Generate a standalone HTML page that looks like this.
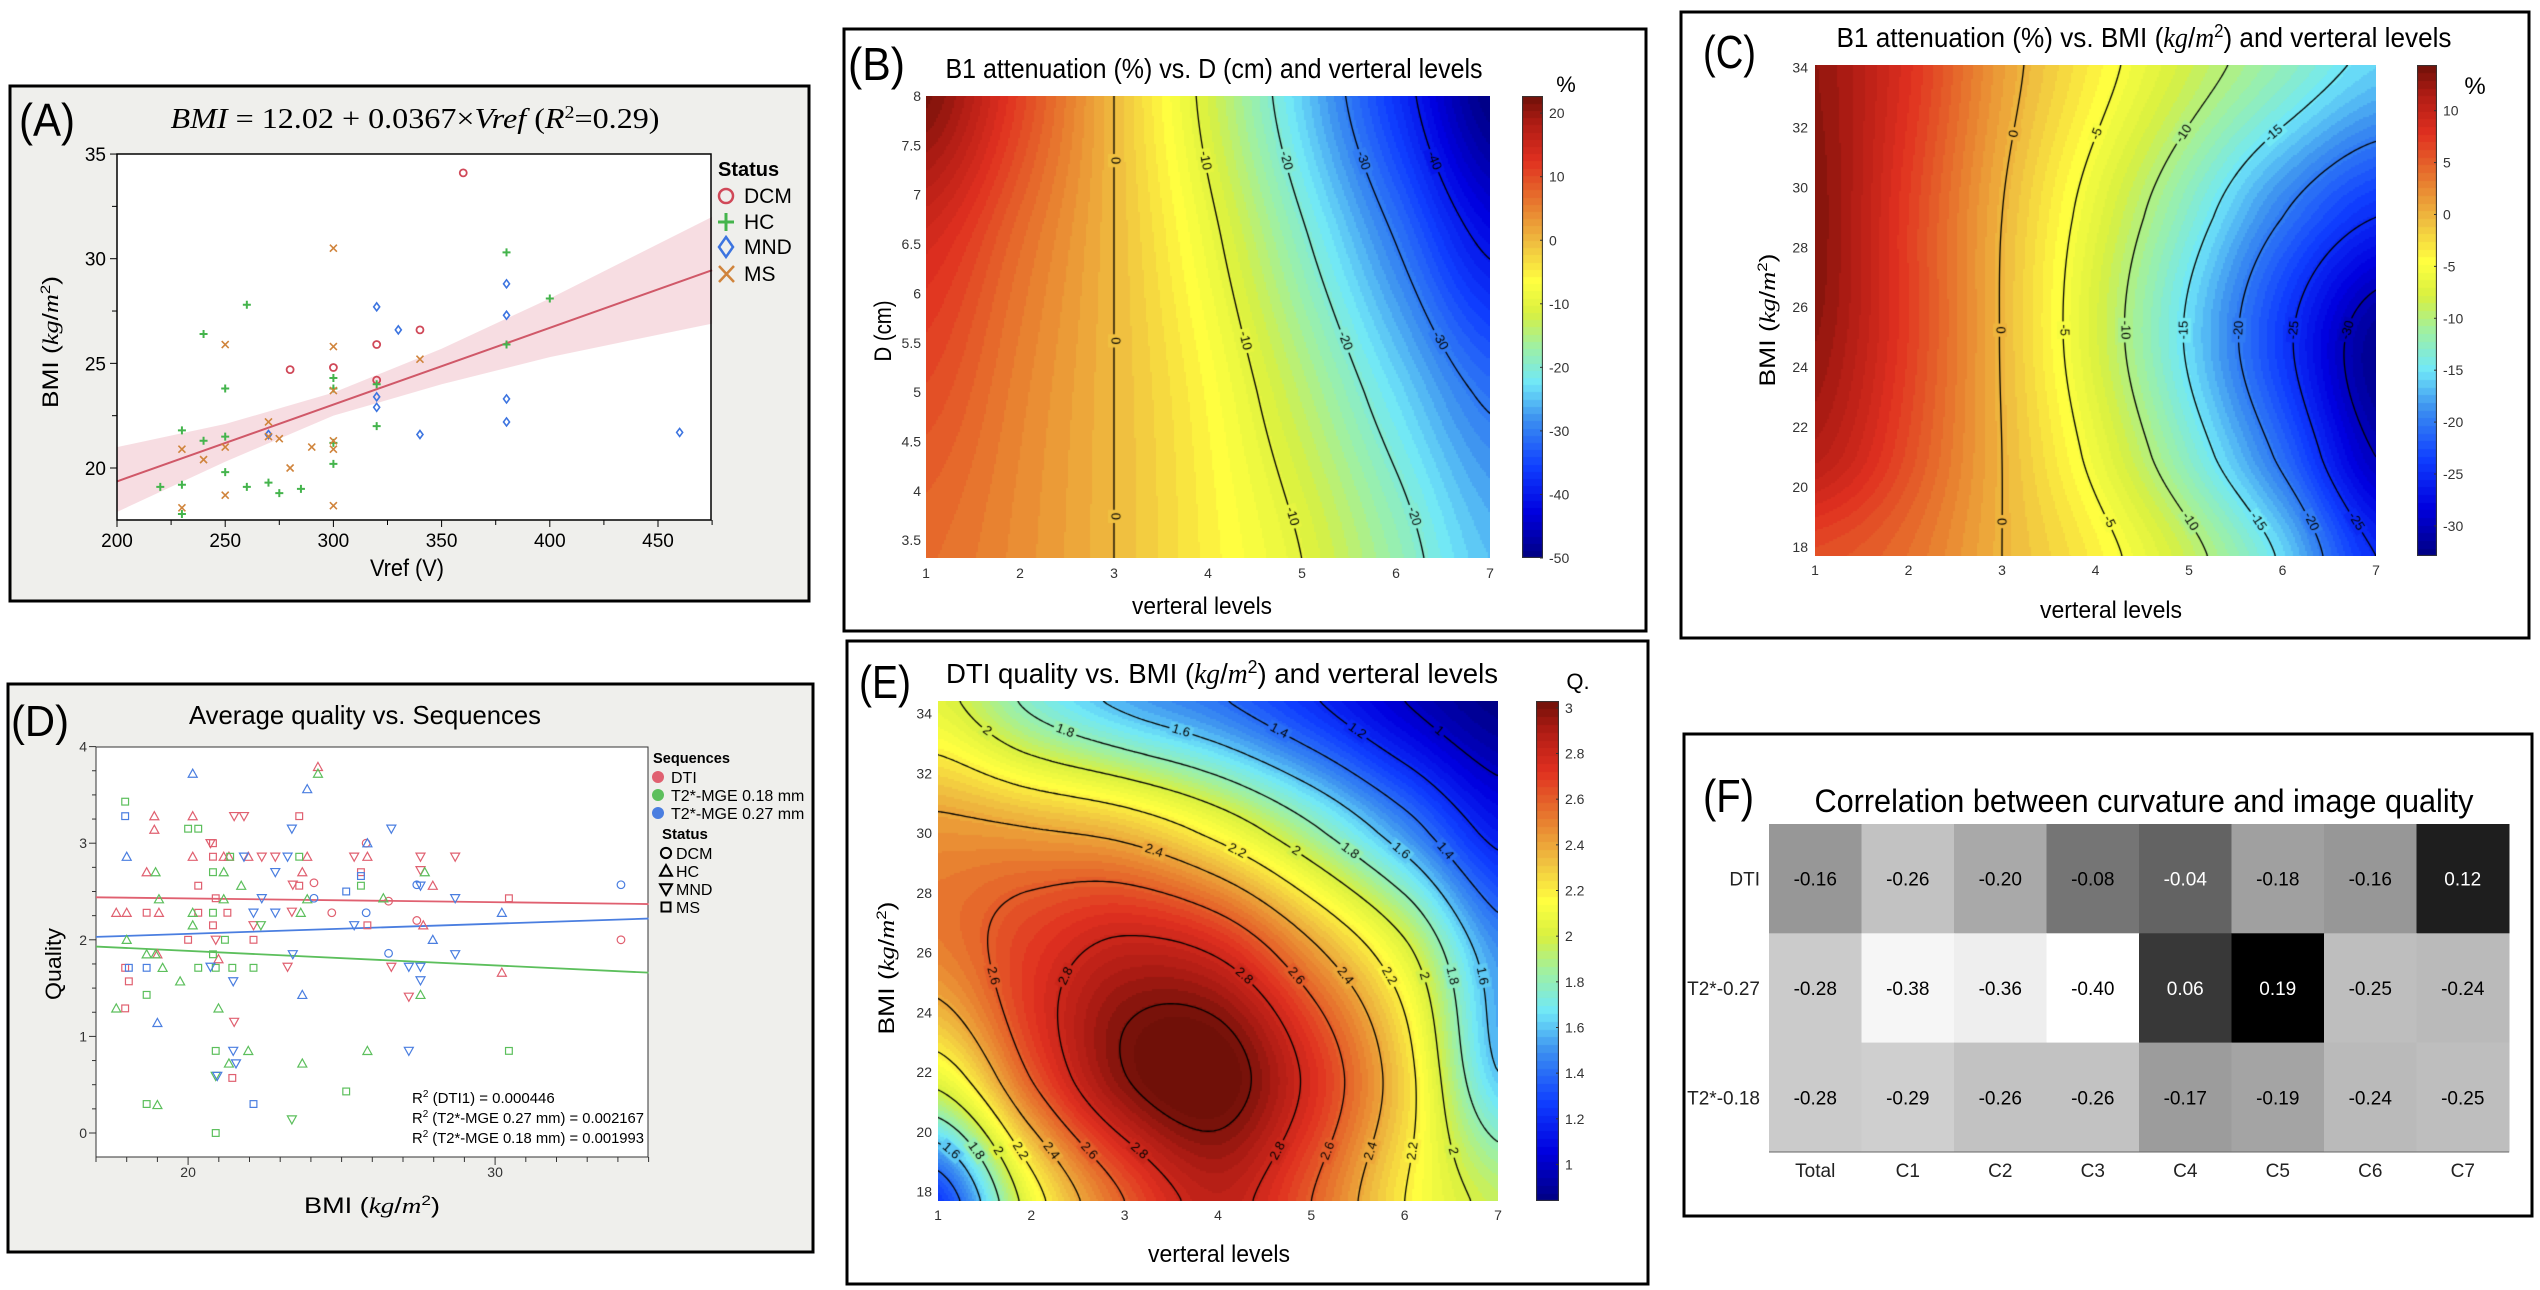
<!DOCTYPE html>
<html><head><meta charset="utf-8">
<style>
body{margin:0;width:2540px;height:1290px;background:#fff;position:relative;overflow:hidden;font-family:"Liberation Sans",sans-serif}
canvas{position:absolute}
#main{position:absolute;left:0;top:0}
</style></head>
<body>
<canvas id="cvB" width="564" height="462" style="left:926px;top:96px"></canvas>
<canvas id="cbB" width="21" height="462" style="left:1522px;top:96px"></canvas>
<canvas id="cvC" width="561" height="491" style="left:1815px;top:65px"></canvas>
<canvas id="cbC" width="20" height="491" style="left:2417px;top:65px"></canvas>
<canvas id="cvE" width="560" height="500" style="left:938px;top:701px"></canvas>
<canvas id="cbE" width="23" height="500" style="left:1536px;top:701px"></canvas>
<svg id="main" width="2540" height="1290" xmlns="http://www.w3.org/2000/svg">
<g font-family="Liberation Sans Narrow, Liberation Sans, sans-serif" fill="#000">
<!-- Panel A -->
<rect x="10" y="86" width="799" height="515" fill="#efefec" stroke="#000" stroke-width="3"/>
<rect x="117" y="154" width="594" height="366" fill="#fff"/>
<text x="19" y="136" font-size="46" textLength="56" lengthAdjust="spacingAndGlyphs">(A)</text>
<text x="415" y="128" font-size="29" text-anchor="middle" font-family="Liberation Serif, serif" textLength="489" lengthAdjust="spacingAndGlyphs"><tspan font-style="italic">BMI</tspan> = 12.02 + 0.0367×<tspan font-style="italic">Vref</tspan> (<tspan font-style="italic">R</tspan><tspan font-size="18" dy="-10">2</tspan><tspan dy="10">=0.29)</tspan></text>
<text x="407" y="576" font-size="24" text-anchor="middle" textLength="74" lengthAdjust="spacingAndGlyphs">Vref (V)</text>
<text transform="translate(58,342) rotate(-90)" font-size="22" text-anchor="middle" textLength="132" lengthAdjust="spacingAndGlyphs">BMI (<tspan font-family="Liberation Serif, serif" font-style="italic">kg</tspan>/<tspan font-family="Liberation Serif, serif" font-style="italic">m</tspan><tspan font-size="14" dy="-8">2</tspan><tspan dy="8">)</tspan></text>
<text x="718" y="176" font-size="20" font-weight="bold">Status</text>
<!-- Panel B -->
<rect x="844" y="29" width="802" height="602" fill="none" stroke="#000" stroke-width="3"/>
<text x="848" y="80" font-size="46" textLength="57" lengthAdjust="spacingAndGlyphs">(B)</text>
<text x="1214" y="78" font-size="28" text-anchor="middle" textLength="537" lengthAdjust="spacingAndGlyphs">B1 attenuation (%) vs. D (cm) and verteral levels</text>
<text x="1202" y="614" font-size="24" text-anchor="middle" textLength="140" lengthAdjust="spacingAndGlyphs">verteral levels</text>
<text transform="translate(891,331) rotate(-90)" font-size="24" text-anchor="middle" textLength="61" lengthAdjust="spacingAndGlyphs">D (cm)</text>
<text x="1566" y="92" font-size="22" text-anchor="middle">%</text>
<!-- Panel C -->
<rect x="1681" y="12" width="848" height="626" fill="none" stroke="#000" stroke-width="3"/>
<text x="1703" y="68" font-size="46" textLength="53" lengthAdjust="spacingAndGlyphs">(C)</text>
<text x="2144" y="47" font-size="28" text-anchor="middle" textLength="615" lengthAdjust="spacingAndGlyphs">B1 attenuation (%) vs. BMI (<tspan font-family="Liberation Serif, serif" font-style="italic">kg</tspan>/<tspan font-family="Liberation Serif, serif" font-style="italic">m</tspan><tspan font-size="18" dy="-10">2</tspan><tspan dy="10">) and verteral levels</tspan></text>
<text x="2111" y="618" font-size="24" text-anchor="middle" textLength="142" lengthAdjust="spacingAndGlyphs">verteral levels</text>
<text transform="translate(1775,320) rotate(-90)" font-size="22" text-anchor="middle" textLength="133" lengthAdjust="spacingAndGlyphs">BMI (<tspan font-family="Liberation Serif, serif" font-style="italic">kg</tspan>/<tspan font-family="Liberation Serif, serif" font-style="italic">m</tspan><tspan font-size="14" dy="-8">2</tspan><tspan dy="8">)</tspan></text>
<text x="2475" y="94" font-size="24" text-anchor="middle">%</text>
<!-- Panel D -->
<rect x="8" y="684" width="805" height="568" fill="#efefec" stroke="#000" stroke-width="3"/>
<rect x="96" y="747" width="552" height="410" fill="#fff" stroke="#333" stroke-width="1"/>
<text x="11" y="736" font-size="44" textLength="58" lengthAdjust="spacingAndGlyphs">(D)</text>
<text x="365" y="724" font-size="26" text-anchor="middle" textLength="352" lengthAdjust="spacingAndGlyphs">Average quality vs. Sequences</text>
<text x="372" y="1213" font-size="22" text-anchor="middle" textLength="136" lengthAdjust="spacingAndGlyphs">BMI (<tspan font-family="Liberation Serif, serif" font-style="italic">kg</tspan>/<tspan font-family="Liberation Serif, serif" font-style="italic">m</tspan><tspan font-size="14" dy="-8">2</tspan><tspan dy="8">)</tspan></text>
<text transform="translate(61,964) rotate(-90)" font-size="22" text-anchor="middle" textLength="72" lengthAdjust="spacingAndGlyphs">Quality</text>
<text x="653" y="763" font-size="15" font-weight="bold" textLength="77" lengthAdjust="spacingAndGlyphs">Sequences</text>
<text x="662" y="839" font-size="15" font-weight="bold">Status</text>
<text x="412" y="1103" font-size="15">R<tspan font-size="10" dy="-6">2</tspan><tspan dy="6"> (DTI1) = 0.000446</tspan></text>
<text x="412" y="1123" font-size="15" textLength="232" lengthAdjust="spacingAndGlyphs">R<tspan font-size="10" dy="-6">2</tspan><tspan dy="6"> (T2*-MGE 0.27 mm) = 0.002167</tspan></text>
<text x="412" y="1143" font-size="15" textLength="232" lengthAdjust="spacingAndGlyphs">R<tspan font-size="10" dy="-6">2</tspan><tspan dy="6"> (T2*-MGE 0.18 mm) = 0.001993</tspan></text>
<!-- Panel E -->
<rect x="847" y="641" width="801" height="643" fill="none" stroke="#000" stroke-width="3"/>
<text x="859" y="698" font-size="46" textLength="52" lengthAdjust="spacingAndGlyphs">(E)</text>
<text x="1222" y="683" font-size="28" text-anchor="middle" textLength="552" lengthAdjust="spacingAndGlyphs">DTI quality vs. BMI (<tspan font-family="Liberation Serif, serif" font-style="italic">kg</tspan>/<tspan font-family="Liberation Serif, serif" font-style="italic">m</tspan><tspan font-size="18" dy="-10">2</tspan><tspan dy="10">) and verteral levels</tspan></text>
<text x="1219" y="1262" font-size="24" text-anchor="middle" textLength="142" lengthAdjust="spacingAndGlyphs">verteral levels</text>
<text transform="translate(894,968) rotate(-90)" font-size="22" text-anchor="middle" textLength="133" lengthAdjust="spacingAndGlyphs">BMI (<tspan font-family="Liberation Serif, serif" font-style="italic">kg</tspan>/<tspan font-family="Liberation Serif, serif" font-style="italic">m</tspan><tspan font-size="14" dy="-8">2</tspan><tspan dy="8">)</tspan></text>
<text x="1578" y="689" font-size="22" text-anchor="middle">Q.</text>
<!-- Panel F -->
<rect x="1684" y="734" width="848" height="482" fill="none" stroke="#000" stroke-width="3"/>
<text x="1703" y="812" font-size="46" textLength="51" lengthAdjust="spacingAndGlyphs">(F)</text>
<text x="2144" y="812" font-size="32" text-anchor="middle" textLength="659" lengthAdjust="spacingAndGlyphs">Correlation between curvature and image quality</text>
</g>
<g id="dyn" font-family="Liberation Sans Narrow, Liberation Sans, sans-serif"></g>
</svg>
<script>
// ---------- DATA ----------
// Panel A
const dcmV=[360,280,300,320,320,340];
const dcmB=[34.1,24.7,24.8,25.9,24.2,26.6];
const hcV=[380,400,260,240,380,250,300,300,320,320,230,240,250,300,300,250,220,230,260,270,275,285,230];
const hcB=[30.3,28.1,27.8,26.4,25.9,23.8,24.3,23.8,24.0,22.0,21.8,21.3,21.5,21.2,20.2,19.8,19.1,19.2,19.1,19.3,18.8,19.0,17.8];
const mndV=[380,320,380,330,320,320,380,380,340,270,460];
const mndB=[28.8,27.7,27.3,26.6,23.4,22.9,23.3,22.2,21.6,21.6,21.7];
const msV=[300,250,300,340,300,270,270,275,300,230,250,290,300,240,280,250,230,300];
const msB=[30.5,25.9,25.8,25.2,23.7,22.2,21.5,21.4,21.3,20.9,21.0,21.0,20.9,20.4,20.0,18.7,18.1,18.2];
const aFitV=[200,475];
const aFitB=[19.36,29.45];
const aBandV=[200,250,300,350,400,475];
const aBandLo=[17.9,20.3,22.5,24.0,25.3,26.9];
const aBandHi=[21.0,22.1,23.6,25.7,28.1,32.0];
const aXTicks=[200,250,300,350,400,450];
const aYTicks=[20,25,30,35];

// Panel B
const bX=[1,2,3,4,5,6,7];
const bD=[8,6.5,5,3.3];
const bGrid=[[22,11,0,-11.5,-24,-37,-50],[14,7,0,-8.5,-19,-30,-41],[10,5,0,-6,-14,-23,-31],[7,4,0,-5,-10,-17.5,-25]];
const bLevels=[0,-10,-20,-30,-40];
const bYTicks=[3.5,4,4.5,5,5.5,6,6.5,7,7.5,8];
const bCbTicks=[20,10,0,-10,-20,-30,-40,-50];

// Panel C
const cX=[1,2,3,4,5,6,7];
const cBmi=[34.1,29,25,21,17.7];
const cGrid=[[13,8,1.3,-3.7,-8.3,-12.2,-15.8],[13.5,7,0,-6.6,-13.2,-20,-25],[13,7,-0.2,-7.6,-15.5,-24,-32],[11,6,0,-5.9,-12.9,-20.8,-30],[6,4,0,-3.7,-8.8,-15.6,-25]];
const cLevels=[0,-5,-10,-15,-20,-25,-30];
const cYTicks=[18,20,22,24,26,28,30,32,34];
const cCbTicks=[10,5,0,-5,-10,-15,-20,-25,-30];

// Panel E
const eX=[1,2,3,4,5,6,7];
const eBmi=[34.4,30,26,22,17.7];
const eGrid=[[2.05,1.76,1.56,1.42,1.22,1.0,0.85],[2.45,2.42,2.35,2.15,1.85,1.5,1.15],[2.5,2.7,2.85,2.78,2.45,2.05,1.5],[2.1,2.62,3.0,3.08,2.75,2.27,1.6],[1.25,2.1,2.6,2.85,2.6,2.2,1.95]];
const eLevels=[1,1.2,1.4,1.6,1.8,2,2.2,2.4,2.6,2.8,3];
const eYTicks=[18,20,22,24,26,28,30,32,34];
const eCbTicks=[3,2.8,2.6,2.4,2.2,2,1.8,1.6,1.4,1.2,1];
const levelTicks=[1,2,3,4,5,6,7];

// Panel D
const dtiBmi=[17.66,18.0,18.9,18.9,18.65,19.05,20.15,20.15,21.16,21.33,21.96,23.72,23.88,24.23,25.84,27.66,27.97,30.22,19.0,20.99,
 21.5,21.82,20.73,22.4,22.84,23.41,23.38,22.13,25.41,26.62,27.57,27.57,28.7,27.19,21.5,23.24,20.9,
 24.1,24.68,25.8,26.53,27.45,34.1,
 17.95,18.07,17.95,18.65,20.33,20.33,20.0,20.81,20.81,20.9,21.28,22.13,23.62,23.62,25.63,25.84,30.45,21.44,20.81];
const dtiQ=[2.28,2.28,3.28,3.14,2.70,2.28,3.28,2.86,2.86,2.86,2.86,2.70,2.86,3.79,2.86,2.15,2.56,1.66,1.85,1.80,
 3.28,3.28,3.0,2.86,2.86,2.57,2.29,2.15,2.86,1.72,2.86,2.72,2.86,1.41,1.15,1.72,2.0,
 2.59,2.28,3.0,2.40,2.20,2.0,
 1.71,1.57,1.29,2.28,2.56,2.28,2.0,3.0,2.15,2.43,2.28,2.0,3.28,2.56,2.70,2.15,2.43,0.57,2.86];
const dtiStat='HHHHHHHHHHHHHHHHHHHHMMMMMMMMMMMMMMMMMCCCCCCSSSSSSSSSSSSSSSSSSS'.split('');
const g18Bmi=[17.66,18.0,18.65,18.94,18.94,19.05,19.17,20.15,19.74,20.99,21.16,21.16,21.73,21.33,21.96,23.72,24.23,23.88,23.67,25.84,26.36,27.71,19.0,20.15,27.57,
 22.37,23.38,20.9,
 17.95,18.65,18.65,20.0,20.33,20.33,20.81,20.81,20.9,21.2,21.44,22.13,20.9,20.9,21.37,23.62,25.15,25.63,30.45,20.81];
const g18Q=[1.29,2.0,1.85,1.85,2.70,2.42,1.71,2.15,1.57,1.29,2.70,2.42,2.56,0.72,0.85,0.72,3.72,2.42,2.28,0.85,2.43,2.70,0.29,2.28,1.43,
 2.15,0.14,0.59,
 3.43,1.43,0.30,3.15,3.15,1.71,2.70,2.28,1.71,2.0,1.71,1.71,0.85,0.0,2.86,2.86,0.43,2.56,0.85,1.85];
const g18Stat='HHHHHHHHHHHHHHHHHHHHHHHHHMMMSSSSSSSSSSSSSSSSSSSS'.split('');
const g27Bmi=[18.0,19.0,20.15,23.72,23.88,25.84,27.97,30.22,
 21.82,20.73,21.47,22.84,22.84,23.38,23.24,23.41,22.4,25.41,26.62,27.19,27.57,27.57,27.57,28.7,28.7,27.19,21.47,21.56,20.95,22.13,
 24.1,25.8,26.53,27.45,34.1,
 17.95,18.07,18.65,22.13,25.15,25.63];
const g27Q=[2.86,1.14,3.72,1.43,3.56,3.0,2.0,2.28,
 2.86,1.72,1.57,2.70,2.28,3.15,2.86,1.85,2.43,2.15,3.15,1.72,1.72,1.58,2.56,2.43,1.85,0.85,0.85,0.72,0.59,2.28,
 2.43,2.28,1.86,2.57,2.57,
 3.28,1.71,1.71,0.30,2.50,2.66];
const g27Stat='HHHHHHHHMMMMMMMMMMMMMMMMMMMMMMCCCCCSSSSSS'.split('');
const dFitStart=[2.44,1.93,2.03];
const dFitEnd=[2.37,1.66,2.22];
const dFitBmi=[17,35];
const dYTicks=[0,1,2,3,4];
const dXTicks=[20,30];

// Panel F
const fRows=['DTI','T2*-0.27','T2*-0.18'];
const fCols=['Total','C1','C2','C3','C4','C5','C6','C7'];
const fDTI=[-0.16,-0.26,-0.20,-0.08,-0.04,-0.18,-0.16,0.12];
const fT27=[-0.28,-0.38,-0.36,-0.40,0.06,0.19,-0.25,-0.24];
const fT18=[-0.28,-0.29,-0.26,-0.26,-0.17,-0.19,-0.24,-0.25];

// ---------- HELPERS ----------
const NS='http://www.w3.org/2000/svg';
const dyn=document.getElementById('dyn');
function mk(tag,attrs,txt){const e=document.createElementNS(NS,tag);for(const k in attrs)e.setAttribute(k,attrs[k]);if(txt!==undefined)e.textContent=txt;dyn.appendChild(e);return e;}
const stops=[[0,0,0,128],[0.1,0,0,224],[0.2,16,64,255],[0.3,60,144,240],[0.38,112,232,248],[0.46,160,240,160],[0.53,216,240,64],[0.6,255,255,64],[0.68,240,192,64],[0.76,232,128,48],[0.86,224,48,32],[0.94,176,28,20],[1,112,16,8]];
function cmap(t){t=Math.max(0,Math.min(1,t));for(let i=0;i<stops.length-1;i++){const a=stops[i],b=stops[i+1];if(t<=b[0]){const u=(t-a[0])/(b[0]-a[0]);return [a[1]+(b[1]-a[1])*u,a[2]+(b[2]-a[2])*u,a[3]+(b[3]-a[3])*u];}}return stops[stops.length-1].slice(1);}
function cr(p0,p1,p2,p3,t){return 0.5*(2*p1+(-p0+p2)*t+(2*p0-5*p1+4*p2-p3)*t*t+(-p0+3*p1-3*p2+p3)*t*t*t);}
function fidx(arr,v){const n=arr.length;const asc=arr[n-1]>arr[0];for(let i=0;i<n-1;i++){const a=arr[i],b=arr[i+1];if((asc&&v<=b)||(!asc&&v>=b)||i==n-2){return i+Math.max(0,Math.min(1,(v-a)/(b-a)));}}return 0;}
function interp(xs,ys,Z,x,y){const nx=xs.length,ny=ys.length;const fi=fidx(xs,x),fj=fidx(ys,y);let i=Math.min(Math.floor(fi),nx-2),j=Math.min(Math.floor(fj),ny-2);const ti=fi-i,tj=fj-j;
 const g=(jj,ii)=>Z[Math.max(0,Math.min(ny-1,jj))][Math.max(0,Math.min(nx-1,ii))];
 const r=[-1,0,1,2].map(d=>cr(g(j+d,i-1),g(j+d,i),g(j+d,i+1),g(j+d,i+2),ti));return cr(r[0],r[1],r[2],r[3],tj);}

function drawContour(c){
 const cv=document.getElementById(c.id),W=cv.width,H=cv.height,ctx=cv.getContext('2d');
 const f=(px,py)=>interp(c.xs,c.ys,c.Z,c.x0+(px/W)*(c.x1-c.x0),c.yTop-(py/H)*(c.yTop-c.yBot));
 const bandCol=v=>{let t=(v-c.vmin)/(c.vmax-c.vmin);t=(Math.floor(t*64)+0.5)/64;return cmap(t);};
 const img=ctx.createImageData(W,H);const S=2;
 for(let py=0;py<H;py+=S)for(let px=0;px<W;px+=S){const col=bandCol(f(px+1,py+1));
  for(let dy=0;dy<S&&py+dy<H;dy++)for(let dx=0;dx<S&&px+dx<W;dx++){const k=((py+dy)*W+px+dx)*4;img.data[k]=col[0];img.data[k+1]=col[1];img.data[k+2]=col[2];img.data[k+3]=255;}}
 ctx.putImageData(img,0,0);
 const st=3,nx=Math.ceil(W/st)+1,ny=Math.ceil(H/st)+1;const G=[];
 for(let j=0;j<ny;j++){G.push([]);for(let i=0;i<nx;i++)G[j].push(f(i*st,j*st));}
 ctx.strokeStyle='#000';ctx.lineWidth=1.3;
 c.levels.forEach(L=>{ctx.beginPath();
  for(let j=0;j<ny-1;j++)for(let i=0;i<nx-1;i++){
   const v=[G[j][i],G[j][i+1],G[j+1][i+1],G[j+1][i]];const p=[[i,j],[i+1,j],[i+1,j+1],[i,j+1]];const pts=[];
   for(let e=0;e<4;e++){const a=v[e],b=v[(e+1)%4];if((a<L)!==(b<L)){const u=(L-a)/(b-a);const A=p[e],B=p[(e+1)%4];pts.push([(A[0]+(B[0]-A[0])*u)*st,(A[1]+(B[1]-A[1])*u)*st]);}}
   for(let k=0;k+1<pts.length;k+=2){ctx.moveTo(pts[k][0],pts[k][1]);ctx.lineTo(pts[k+1][0],pts[k+1][1]);}
  }ctx.stroke();});
 ctx.font='13px "Liberation Sans", sans-serif';ctx.textAlign='center';ctx.textBaseline='middle';
 c.labelRows.forEach(fr=>{const py=fr*H;let prev=f(0,py);
  for(let px=1;px<W;px++){const cur=f(px,py);
   c.levels.forEach(L=>{if((prev<L)!==(cur<L)&&px>12&&px<W-12){
    const gx=f(px+1,py)-f(px-1,py),gy=f(px,py+1)-f(px,py-1);let ang=Math.atan2(gx,-gy);
    if(ang>Math.PI/2)ang-=Math.PI;if(ang<-Math.PI/2)ang+=Math.PI;
    const txt=String(L);const tw=ctx.measureText(txt).width;const col=bandCol(cur);
    ctx.save();ctx.translate(px,py);ctx.rotate(ang);ctx.fillStyle='rgb('+col.map(Math.round).join(',')+')';
    ctx.fillRect(-tw/2-3,-7,tw+6,14);ctx.fillStyle='#000';ctx.fillText(txt,0,0);ctx.restore();}});
   prev=cur;}});
 const cb=document.getElementById(c.cb),cctx=cb.getContext('2d');
 for(let y=0;y<cb.height;y++){const v=c.vmax-(y/cb.height)*(c.vmax-c.vmin);const col=bandCol(v);cctx.fillStyle='rgb('+col.map(Math.round).join(',')+')';cctx.fillRect(0,y,cb.width,1);}
 cctx.strokeStyle='#333';cctx.lineWidth=1;cctx.strokeRect(0.5,0.5,cb.width-1,cb.height-1);
}

// ---------- PANEL A ----------
const ax=v=>117+(v-200)*2.164, ay=b=>468-(b-20)*20.93;
(function(){
 let d='M';aBandV.forEach((v,i)=>{d+=(i?' L':'')+ax(v)+','+ay(aBandHi[i]);});
 for(let i=aBandV.length-1;i>=0;i--)d+=' L'+ax(aBandV[i])+','+ay(aBandLo[i]);d+='Z';
 let e=mk('path',{d:d,fill:'rgba(222,120,140,0.25)'});
 
 
 e=mk('line',{x1:ax(aFitV[0]),y1:ay(aFitB[0]),x2:ax(aFitV[1]),y2:ay(aFitB[1]),stroke:'#d05868','stroke-width':2});
 
 
 e=mk('rect',{x:117,y:154,width:594,height:366,fill:'none',stroke:'#000','stroke-width':1.5});
 
 
 aXTicks.forEach(v=>{let t=mk('line',{x1:ax(v),y1:520,x2:ax(v),y2:527,stroke:'#000'});
  
  
  let l=mk('text',{x:ax(v),y:547,'font-size':19,'text-anchor':'middle'},String(v));
  
  
  let m=mk('line',{x1:ax(v+25),y1:520,x2:ax(v+25),y2:525,stroke:'#000'});
  
  });
 aYTicks.forEach(v=>{let t=mk('line',{x1:110,y1:ay(v),x2:117,y2:ay(v),stroke:'#000'});
  
  
  let l=mk('text',{x:106,y:ay(v)+7,'font-size':19,'text-anchor':'end'},String(v));
  
  
  if(v>20){let m=mk('line',{x1:112,y1:ay(v-2.5),x2:117,y2:ay(v-2.5),stroke:'#000'});
  
  }});
 const sym=(kind,x,y,col)=>{let e;
  if(kind==='o')e=mk('circle',{cx:x,cy:y,r:3.5,fill:'none',stroke:col,'stroke-width':1.8});
  else if(kind==='+')e=mk('path',{d:`M${x-4},${y}h8M${x},${y-4}v8`,stroke:col,'stroke-width':2});
  else if(kind==='d')e=mk('path',{d:`M${x},${y-4}l3,4l-3,4l-3,-4z`,fill:'none',stroke:col,'stroke-width':1.6});
  else e=mk('path',{d:`M${x-3.5},${y-3.5}l7,7M${x+3.5},${y-3.5}l-7,7`,stroke:col,'stroke-width':1.6});
  return e;};
 dcmV.forEach((v,i)=>{const e=sym('o',ax(v),ay(dcmB[i]),'#d04858');
  
  });
 hcV.forEach((v,i)=>{const e=sym('+',ax(v),ay(hcB[i]),'#44b44c');
  
  });
 mndV.forEach((v,i)=>{const e=sym('d',ax(v),ay(mndB[i]),'#3c74e0');
  
  });
 msV.forEach((v,i)=>{const e=sym('x',ax(v),ay(msB[i]),'#d0843c');
  
  });
 const leg=[['o','#d04858','DCM',196],['+','#44b44c','HC',222],['d','#3c74e0','MND',247],['x','#d0843c','MS',274]];
 leg.forEach(L=>{let e;
  if(L[0]==='o')e=mk('circle',{cx:726,cy:L[3],r:7,fill:'none',stroke:L[1],'stroke-width':2.5});
  else if(L[0]==='+')e=mk('path',{d:`M718,${L[3]}h16M726,${L[3]-9}v18`,stroke:L[1],'stroke-width':3});
  else if(L[0]==='d')e=mk('path',{d:`M726,${L[3]-10}l7,10l-7,10l-7,-10z`,fill:'none',stroke:L[1],'stroke-width':2.5});
  else e=mk('path',{d:`M719,${L[3]-8}l15,16M734,${L[3]-8}l-15,16`,stroke:L[1],'stroke-width':2.5});
  
  
  const t=mk('text',{x:744,y:L[3]+7,'font-size':21},L[2]);
  
  });
})();

// ---------- CONTOUR PANELS ----------
drawContour({id:'cvB',cb:'cbB',xs:bX,ys:bD,Z:bGrid,x0:1,x1:7,yTop:8,yBot:3.32,vmin:-50,vmax:22.7,levels:bLevels,labelRows:[0.14,0.53,0.91]});
drawContour({id:'cvC',cb:'cbC',xs:cX,ys:cBmi,Z:cGrid,x0:1,x1:7,yTop:34.08,yBot:17.7,vmin:-32.9,vmax:14.4,levels:cLevels,labelRows:[0.14,0.54,0.93]});
drawContour({id:'cvE',cb:'cbE',xs:eX,ys:eBmi,Z:eGrid,x0:1,x1:7,yTop:34.42,yBot:17.69,vmin:0.84,vmax:3.03,levels:eLevels,labelRows:[0.06,0.3,0.55,0.9]});

function axisLabels(p){
 levelTicks.forEach(v=>{const t=mk('text',{x:p.px0+(v-1)*(p.px1-p.px0)/6,y:p.xlY,'font-size':14,'text-anchor':'middle',fill:'#333'},String(v));
  
  });
 p.yt.forEach(v=>{const t=mk('text',{x:p.ylX,y:p.py0+(p.yTop-v)*(p.py1-p.py0)/(p.yTop-p.yBot)+5,'font-size':14,'text-anchor':'end',fill:'#333'},String(v));
  
  });
 p.cbt.forEach(v=>{const y=p.py0+(p.vmax-v)*(p.py1-p.py0)/(p.vmax-p.vmin);
  const t=mk('text',{x:p.cbX+6,y:y+5,'font-size':14,fill:'#333'},String(v));
  
  
  const k=mk('line',{x1:p.cbX-3,y1:y,x2:p.cbX,y2:y,stroke:'#333'});
  
  });
}
axisLabels({n:'b',px0:926,px1:1490,py0:96,py1:558,yTop:8,yBot:3.32,xlY:578,ylX:921,yt:bYTicks,cbt:bCbTicks,vmax:22.7,vmin:-50,cbX:1543});
axisLabels({n:'c',px0:1815,px1:2376,py0:65,py1:556,yTop:34.08,yBot:17.7,xlY:575,ylX:1808,yt:cYTicks,cbt:cCbTicks,vmax:14.4,vmin:-32.9,cbX:2437});
axisLabels({n:'e',px0:938,px1:1498,py0:701,py1:1201,yTop:34.42,yBot:17.69,xlY:1220,ylX:932,yt:eYTicks,cbt:eCbTicks,vmax:3.03,vmin:0.84,cbX:1559});

// ---------- PANEL D ----------
const dx=b=>96+(b-17)*30.7, dyq=q=>1133-q*96.6;
(function(){
 const seqCol=['#e06070','#5cbf5c','#4a7ee0'];
 dFitStart.forEach((s,i)=>{const e=mk('line',{x1:dx(dFitBmi[0]),y1:dyq(s),x2:dx(dFitBmi[1]),y2:dyq(dFitEnd[i]),stroke:seqCol[i],'stroke-width':1.8});
  
  });
 for(let v=17;v<=35;v++){const e=mk('line',{x1:dx(v),y1:1157,x2:dx(v),y2:dXTicks.includes(v)?1165:1162,stroke:'#333'});
  
  }
 dXTicks.forEach(v=>{const t=mk('text',{x:dx(v),y:1177,'font-size':14,'text-anchor':'middle',fill:'#333'},String(v));
  
  });
 for(let q=0;q<=4;q+=0.25){const e=mk('line',{x1:Number.isInteger(q)?89:92,y1:dyq(q),x2:96,y2:dyq(q),stroke:'#333'});
  
  }
 dYTicks.forEach(v=>{const t=mk('text',{x:87,y:dyq(v)+5,'font-size':14,'text-anchor':'end',fill:'#333'},String(v));
  
  });
 const mark=(s,x,y,col,sz,w)=>{let e;
  if(s==='C')e=mk('circle',{cx:x,cy:y,r:sz*0.85,fill:'none',stroke:col,'stroke-width':w});
  else if(s==='H')e=mk('path',{d:`M${x},${y-sz}L${x+sz},${y+sz*0.8}L${x-sz},${y+sz*0.8}Z`,fill:'none',stroke:col,'stroke-width':w});
  else if(s==='M')e=mk('path',{d:`M${x},${y+sz}L${x+sz},${y-sz*0.8}L${x-sz},${y-sz*0.8}Z`,fill:'none',stroke:col,'stroke-width':w});
  else e=mk('rect',{x:x-sz*0.75,y:y-sz*0.75,width:sz*1.5,height:sz*1.5,fill:'none',stroke:col,'stroke-width':w});
  return e;};
 dtiBmi.forEach((b,i)=>{const e=mark(dtiStat[i],dx(b),dyq(dtiQ[i]),seqCol[0],4.5,1.2);
  
  });
 g18Bmi.forEach((b,i)=>{const e=mark(g18Stat[i],dx(b),dyq(g18Q[i]),seqCol[1],4.5,1.2);
  
  });
 g27Bmi.forEach((b,i)=>{const e=mark(g27Stat[i],dx(b),dyq(g27Q[i]),seqCol[2],4.5,1.2);
  
  });
 const seqs=[['DTI',777],['T2*-MGE 0.18 mm',795],['T2*-MGE 0.27 mm',813]];
 seqs.forEach((s,i)=>{const c=mk('circle',{cx:658,cy:s[1],r:6,fill:seqCol[i]});
  
  
  const t=mk('text',{x:671,y:s[1]+6,'font-size':16},s[0]);
  
  });
 const sts=[['C','DCM',853],['H','HC',871],['M','MND',889],['S','MS',907]];
 sts.forEach(s=>{const c=mark(s[0],666,s[2],'#000',6,2);
  
  
  const t=mk('text',{x:676,y:s[2]+6,'font-size':16},s[1]);
  
  });
})();

// ---------- PANEL F ----------
(function(){
 const data=[fDTI,fT27,fT18];const x0=1769,cw=92.5,y0=824,rh=109.3;
 data.forEach((row,r)=>{row.forEach((v,c)=>{const g=Math.round(Math.max(0,Math.min(255,255*(0.19-v)/0.59)));
  const e=mk('rect',{x:x0+c*cw,y:y0+r*rh,width:cw+0.5,height:rh+0.5,fill:`rgb(${g},${g},${g})`});
  
  
  const t=mk('text',{x:x0+c*cw+cw/2,y:y0+r*rh+rh/2+7,'font-size':19,'text-anchor':'middle',fill:g<110?'#fff':'#000'},v.toFixed(2));
  
  });
  const l=mk('text',{x:1760,y:y0+r*rh+rh/2+7,'font-size':19,'text-anchor':'end',fill:'#222'},fRows[r]);
  
  });
 fCols.forEach((c,i)=>{const t=mk('text',{x:x0+i*cw+cw/2,y:1177,'font-size':19,'text-anchor':'middle',fill:'#222'},c);
  
  });
 const ln=mk('line',{x1:1769,y1:1152,x2:2509,y2:1152,stroke:'#666','stroke-width':1});
 
 
})();
</script>
</body></html>
